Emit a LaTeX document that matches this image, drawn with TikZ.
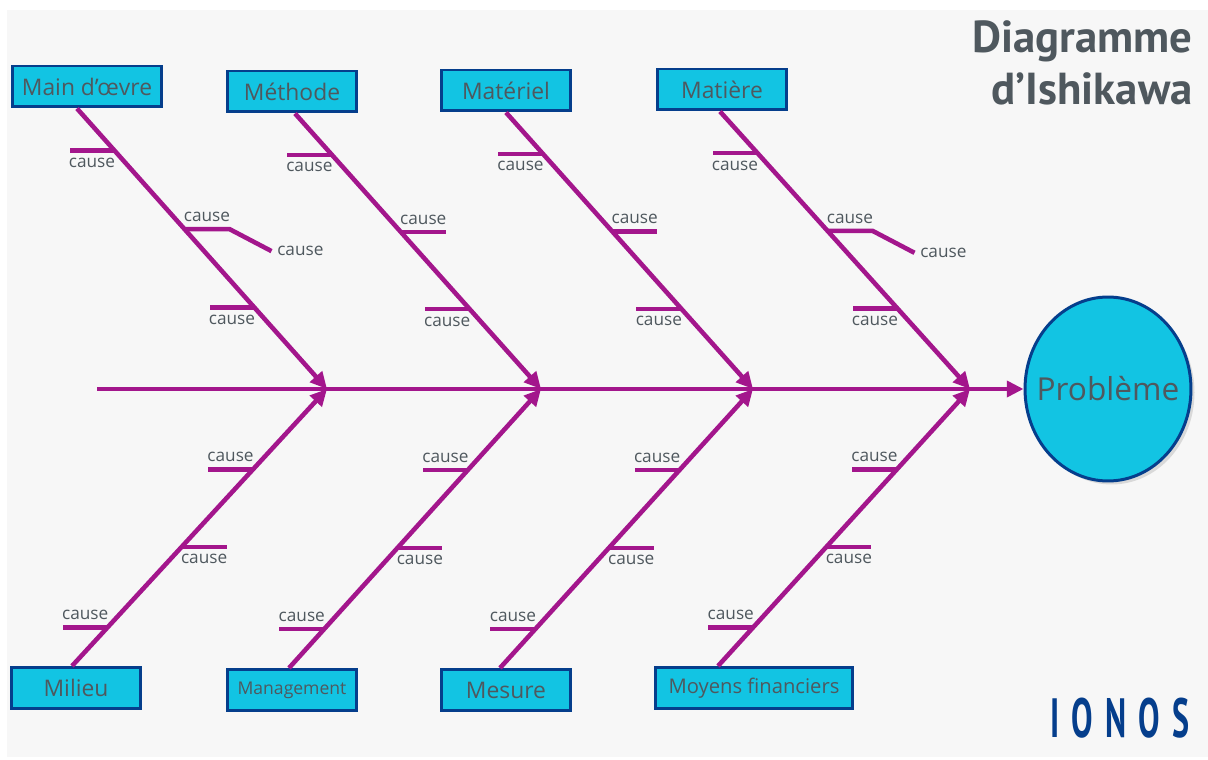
\documentclass[tikz,border=0pt]{standalone}
\usepackage{fontspec}
\usepackage{graphicx}
\setmainfont{Open Sans}
\newfontfamily\titlefont{PT Sans}
\usepackage{tikz}
\usetikzlibrary{calc,arrows.meta,shapes.geometric,shadows}
\definecolor{fishbone}{HTML}{A3168C}
\definecolor{boxfill}{HTML}{12C4E3}
\definecolor{boxline}{HTML}{053E8C}
\definecolor{greytext}{HTML}{4F585E}
\definecolor{paper}{HTML}{F7F7F7}
\tikzset{
	catbox/.style={draw=boxline, line width=1.7pt, fill=boxfill, text=greytext, minimum width=2.6cm, minimum height=0.82cm, inner sep=0pt, font=\fontsize{13}{13}\selectfont},
	problem/.style={ellipse, draw=boxline, line width=1.7pt, fill=boxfill, text=greytext, minimum width=3.32cm, minimum height=3.68cm, inner sep=0pt, font=\fontsize{18}{18}\selectfont, drop shadow={shadow xshift=2pt, shadow yshift=-2pt, opacity=0.25}},
	bone/.style={draw=fishbone, line width=2.6pt, -{Triangle[length=9.5pt,width=9pt]}},
	rib/.style={draw=fishbone, line width=2.6pt},
	lbl/.style={text=greytext, inner sep=1pt, font=\fontsize{9.8}{9.8}\selectfont},
}

\begin{document}
\begin{tikzpicture}[x=0.02cm, y=-0.02cm]
			%%%%% START %%%%%
			
			\useasboundingbox (0, 0) rectangle (1208, 760);
			\fill[white] (0, 0) rectangle (1208, 760);
			\fill[paper] (7, 10) rectangle (1208, 757);
			
			\node[anchor=north east, align=right, text=greytext, inner sep=0pt, font=\titlefont\bfseries\fontsize{25.5}{29.5}\selectfont] (ttl) at (1193, 20) {Diagramme\\d’Ishikawa};
			\node[anchor=west, text=boxline, inner sep=0pt, font=\titlefont\bfseries\fontsize{31.5}{31.5}\selectfont] (logo) at (1050, 718) {\scalebox{0.58}[1]{\addfontfeature{LetterSpace=38}IONOS}};
			
			\node[catbox, minimum width=3cm] (mo) at (87, 86.5) {Main d’œvre};
			\node[catbox] (me) at (292, 91.5) {Méthode};
			\node[catbox] (ma) at (506, 90.5) {Matériel};
			\node[catbox] (mt) at (722, 89.5) {Matière};
			
			\node[catbox] (mi) at (76, 688) {Milieu};
			\node[catbox, font=\fontsize{10}{10}\selectfont] (mg) at (292, 690) {Management};
			\node[catbox] (mu) at (506, 690) {Mesure};
			\node[catbox, minimum width=3.94cm, font=\fontsize{11.5}{11.5}\selectfont] (mf) at (754, 688) {Moyens financiers};
			
			\node[problem] (pb) at (1108, 389) {\makebox[0pt]{Problème}};
			
			\coordinate (tail) at (97, 389);
			\coordinate (j1) at (327, 389);
			\coordinate (j2) at (541, 389);
			\coordinate (j3) at (753, 389);
			\coordinate (j4) at (970, 389);
			
			\coordinate (s1) at ([xshift=-0.2cm]mo.south);
			\coordinate (s2) at ([xshift=0.06cm]me.south);
			\coordinate (s3) at (ma.south);
			\coordinate (s4) at ([xshift=-0.04cm]mt.south);
			\coordinate (b1) at ([xshift=-0.08cm]mi.north);
			\coordinate (b2) at ([xshift=-0.06cm]mg.north);
			\coordinate (b3) at ([xshift=-0.12cm]mu.north);
			\coordinate (b4) at ([xshift=-0.72cm]mf.north);
			
			\draw[bone] (tail) -- (pb.west);
			
			\draw[bone] (s1) -- (j1);
			\draw[bone] (s2) -- (j2);
			\draw[bone] (s3) -- (j3);
			\draw[bone] (s4) -- (j4);
			\draw[bone] (b1) -- (j1);
			\draw[bone] (b2) -- (j2);
			\draw[bone] (b3) -- (j3);
			\draw[bone] (b4) -- (j4);
			
			% upper causes
			\draw[rib] ($(s1)!0.15!(j1)$) -- ++(-45, 0) node[midway, below=2pt, lbl] (c1a) {cause};
			\draw[rib] ($(s1)!0.43!(j1)$) -- ++(45, 0) node[midway, above=2pt, lbl] (c1b) {cause} -- ++(42, 22) node[right=1pt, lbl] (c1d) {cause};
			\draw[rib] ($(s1)!0.71!(j1)$) -- ++(-45, 0) node[midway, below=2pt, lbl] (c1c) {cause};
			
			\draw[rib] ($(s2)!0.15!(j2)$) -- ++(-45, 0) node[midway, below=2pt, lbl] (c2a) {cause};
			\draw[rib] ($(s2)!0.43!(j2)$) -- ++(45, 0) node[midway, above=2pt, lbl] (c2b) {cause};
			\draw[rib] ($(s2)!0.71!(j2)$) -- ++(-45, 0) node[midway, below=2pt, lbl] (c2c) {cause};
			
			\draw[rib] ($(s3)!0.15!(j3)$) -- ++(-45, 0) node[midway, below=2pt, lbl] (c3a) {cause};
			\draw[rib] ($(s3)!0.43!(j3)$) -- ++(45, 0) node[midway, above=2pt, lbl] (c3b) {cause};
			\draw[rib] ($(s3)!0.71!(j3)$) -- ++(-45, 0) node[midway, below=2pt, lbl] (c3c) {cause};
			
			\draw[rib] ($(s4)!0.15!(j4)$) -- ++(-45, 0) node[midway, below=2pt, lbl] (c4a) {cause};
			\draw[rib] ($(s4)!0.43!(j4)$) -- ++(45, 0) node[midway, above=2pt, lbl] (c4b) {cause} -- ++(42, 22) node[right=1pt, lbl] (c4d) {cause};
			\draw[rib] ($(s4)!0.71!(j4)$) -- ++(-45, 0) node[midway, below=2pt, lbl] (c4c) {cause};
			
			% lower causes
			\draw[rib] ($(j1)!0.29!(b1)$) -- ++(-45, 0) node[midway, above=2pt, lbl] (d1a) {cause};
			\draw[rib] ($(j1)!0.57!(b1)$) -- ++(45, 0) node[midway, below=2pt, lbl] (d1b) {cause};
			\draw[rib] ($(j1)!0.86!(b1)$) -- ++(-45, 0) node[midway, above=2pt, lbl] (d1c) {cause};
			
			\draw[rib] ($(j2)!0.29!(b2)$) -- ++(-45, 0) node[midway, above=2pt, lbl] (d2a) {cause};
			\draw[rib] ($(j2)!0.57!(b2)$) -- ++(45, 0) node[midway, below=2pt, lbl] (d2b) {cause};
			\draw[rib] ($(j2)!0.86!(b2)$) -- ++(-45, 0) node[midway, above=2pt, lbl] (d2c) {cause};
			
			\draw[rib] ($(j3)!0.29!(b3)$) -- ++(-45, 0) node[midway, above=2pt, lbl] (d3a) {cause};
			\draw[rib] ($(j3)!0.57!(b3)$) -- ++(45, 0) node[midway, below=2pt, lbl] (d3b) {cause};
			\draw[rib] ($(j3)!0.86!(b3)$) -- ++(-45, 0) node[midway, above=2pt, lbl] (d3c) {cause};
			
			\draw[rib] ($(j4)!0.29!(b4)$) -- ++(-45, 0) node[midway, above=2pt, lbl] (d4a) {cause};
			\draw[rib] ($(j4)!0.57!(b4)$) -- ++(45, 0) node[midway, below=2pt, lbl] (d4b) {cause};
			\draw[rib] ($(j4)!0.86!(b4)$) -- ++(-45, 0) node[midway, above=2pt, lbl] (d4c) {cause};
			
			%%%%% END %%%%%
\end{tikzpicture}
\end{document}
